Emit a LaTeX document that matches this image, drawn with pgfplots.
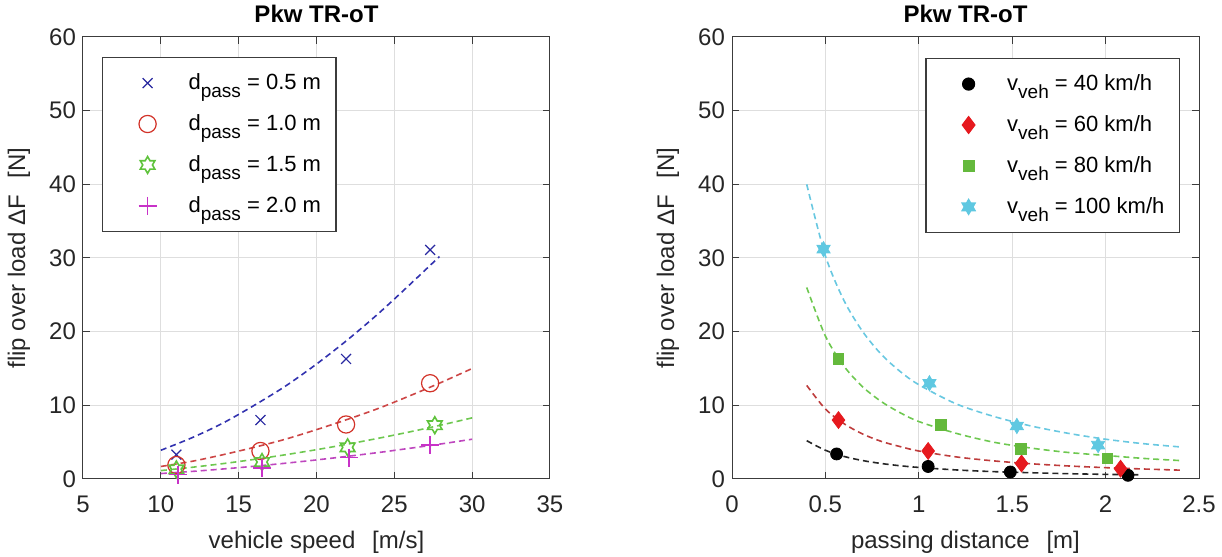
\documentclass[border=0pt]{standalone}
\usepackage{fontspec}
\setmainfont{Liberation Sans}
\usepackage{pgfplots}
\pgfplotsset{compat=1.18}

\definecolor{cBlue}{RGB}{40,40,160}
\definecolor{cRed}{RGB}{210,50,40}
\definecolor{cGreen}{RGB}{95,195,60}
\definecolor{cMag}{RGB}{200,50,200}
\definecolor{lBlue}{RGB}{50,50,175}
\definecolor{lRed}{RGB}{205,70,70}
\definecolor{lGreen}{RGB}{110,200,80}
\definecolor{lMag}{RGB}{190,70,190}
\definecolor{rRed}{RGB}{230,25,30}
\definecolor{rGreen}{RGB}{100,185,60}
\definecolor{rCyan}{RGB}{95,200,225}
\definecolor{lrRed}{RGB}{190,60,60}
\definecolor{lrCyan}{RGB}{105,200,225}
\definecolor{axcol}{RGB}{60,60,60}

\pgfdeclareplotmark{hexagram}{%
  \pgfpathmoveto{\pgfpointpolar{90}{\pgfplotmarksize}}%
  \pgfpathlineto{\pgfpointpolar{120}{0.577\pgfplotmarksize}}%
  \pgfpathlineto{\pgfpointpolar{150}{\pgfplotmarksize}}%
  \pgfpathlineto{\pgfpointpolar{180}{0.577\pgfplotmarksize}}%
  \pgfpathlineto{\pgfpointpolar{210}{\pgfplotmarksize}}%
  \pgfpathlineto{\pgfpointpolar{240}{0.577\pgfplotmarksize}}%
  \pgfpathlineto{\pgfpointpolar{270}{\pgfplotmarksize}}%
  \pgfpathlineto{\pgfpointpolar{300}{0.577\pgfplotmarksize}}%
  \pgfpathlineto{\pgfpointpolar{330}{\pgfplotmarksize}}%
  \pgfpathlineto{\pgfpointpolar{0}{0.577\pgfplotmarksize}}%
  \pgfpathlineto{\pgfpointpolar{30}{\pgfplotmarksize}}%
  \pgfpathlineto{\pgfpointpolar{60}{0.577\pgfplotmarksize}}%
  \pgfpathclose
  \pgfusepathqstroke}
\pgfdeclareplotmark{hexagram*}{%
  \pgfpathmoveto{\pgfpointpolar{90}{\pgfplotmarksize}}%
  \pgfpathlineto{\pgfpointpolar{120}{0.577\pgfplotmarksize}}%
  \pgfpathlineto{\pgfpointpolar{150}{\pgfplotmarksize}}%
  \pgfpathlineto{\pgfpointpolar{180}{0.577\pgfplotmarksize}}%
  \pgfpathlineto{\pgfpointpolar{210}{\pgfplotmarksize}}%
  \pgfpathlineto{\pgfpointpolar{240}{0.577\pgfplotmarksize}}%
  \pgfpathlineto{\pgfpointpolar{270}{\pgfplotmarksize}}%
  \pgfpathlineto{\pgfpointpolar{300}{0.577\pgfplotmarksize}}%
  \pgfpathlineto{\pgfpointpolar{330}{\pgfplotmarksize}}%
  \pgfpathlineto{\pgfpointpolar{0}{0.577\pgfplotmarksize}}%
  \pgfpathlineto{\pgfpointpolar{30}{\pgfplotmarksize}}%
  \pgfpathlineto{\pgfpointpolar{60}{0.577\pgfplotmarksize}}%
  \pgfpathclose
  \pgfusepathqfillstroke}

\newcommand{\sub}[1]{\raisebox{-4pt}{\fontsize{9.5}{10}\selectfont #1}}
\newcommand{\leg}[1]{\kern14pt#1\kern-12.5pt}

\pgfplotsset{
  mystyle/.style={
    width=233.5pt, height=221pt, scale only axis,
    clip=false,
    axis line style={axcol, line width=0.5pt},
    tick style={axcol, line width=0.5pt},
    major tick length=3.5pt,
    tick align=inside, xtick pos=both, ytick pos=both,
    grid=major,
    major grid style={black!13, line width=0.5pt},
    ymin=0, ymax=60, ytick={0,10,20,30,40,50,60},
    /pgf/number format/assume math mode=true,
    tick label style={font=\fontsize{12}{14}\selectfont, text=black!85},
    xticklabel style={yshift=-5pt},
    label style={font=\fontsize{12}{14}\selectfont, text=black!85},
    title style={font=\fontsize{12}{14}\selectfont\bfseries, anchor=base, yshift=1pt},
    xlabel style={at={(axis description cs:0.5,0)}, anchor=base, yshift=-34.5pt},
    ylabel style={at={(axis description cs:-0.137,0.5)}, anchor=center},
    legend style={font=\fontsize{11}{13}\selectfont, draw=axcol, line width=0.6pt,
      row sep=7pt, inner xsep=18pt, inner ysep=6pt, cells={anchor=west}},
    title={Pkw TR-oT},
  },
  fitline/.style={dash pattern=on 3pt off 2pt, line width=0.8pt, smooth, forget plot, no marks},
}

\begin{document}
\begin{tikzpicture}
\useasboundingbox (-41.5pt,-39pt) rectangle (569.5pt,239.5pt);

\begin{axis}[mystyle,
  xmin=5, xmax=35, xtick={5,10,15,20,25,30,35},
  xlabel={vehicle speed\hspace{0.7em}[m/s]},
  ylabel={flip over load ΔF\hspace{0.7em}[N]},
  legend style={at={(0,1)}, anchor=north west, xshift=9.5pt, yshift=-10pt},
]
\addplot[only marks, mark=x, mark size=3.5pt, color=cBlue, line width=0.6pt]
  coordinates {(11.0,3.3) (16.4,8.0) (21.9,16.3) (27.3,31.1)};
\addlegendentry{\leg{d\sub{pass} = 0.5 m}}
\addplot[only marks, mark=o, mark size=4.3pt, color=cRed, line width=0.6pt]
  coordinates {(11.0,1.9) (16.4,3.8) (21.9,7.4) (27.3,13.0)};
\addlegendentry{\leg{d\sub{pass} = 1.0 m}}
\addplot[only marks, mark=hexagram, mark size=4.2pt, color=cGreen, line width=0.8pt]
  coordinates {(11.0,1.3) (16.5,2.3) (22.0,4.3) (27.6,7.3)};
\addlegendentry{\leg{d\sub{pass} = 1.5 m}}
\addplot[only marks, mark=+, mark size=4.5pt, color=cMag, line width=0.8pt]
  coordinates {(11.1,0.6) (16.5,1.5) (22.1,2.9) (27.3,4.6)};
\addlegendentry{\leg{d\sub{pass} = 2.0 m}}

\addplot[fitline, color=lBlue] coordinates {(10,3.9) (12,5.6) (14,7.6) (16,10.0) (18,12.6) (20,15.6) (22,18.9) (24,22.5) (26,26.4) (27.9,30.2)};
\addplot[fitline, color=lRed] coordinates {(10,1.7) (12,2.4) (14,3.3) (16,4.3) (18,5.4) (20,6.7) (22,8.1) (24,9.6) (26,11.3) (28,13.1) (30,15.0)};
\addplot[fitline, color=lGreen] coordinates {(10,1.14) (12,1.59) (14,2.09) (16,2.66) (18,3.29) (20,3.98) (22,4.73) (24,5.54) (26,6.40) (28,7.32) (30,8.3)};
\addplot[fitline, color=lMag] coordinates {(10,0.74) (12,1.03) (14,1.36) (16,1.73) (18,2.14) (20,2.59) (22,3.08) (24,3.60) (26,4.17) (28,4.76) (30,5.4)};
\end{axis}

\begin{axis}[mystyle, at={(324.5pt,0pt)},
  xmin=0, xmax=2.5, xtick={0,0.5,1,1.5,2,2.5},
  xticklabels={0,0.5,1,1.5,2,2.5},
  xlabel={passing distance\hspace{0.7em}[m]},
  ylabel={flip over load ΔF\hspace{0.7em}[N]},
  legend style={at={(1,1)}, anchor=north east, xshift=-9.5pt, yshift=-10.5pt},
]
\addplot[only marks, mark=*, mark size=3pt, color=black]
  coordinates {(0.56,3.4) (1.05,1.7) (1.49,0.95) (2.12,0.5)};
\addlegendentry{\leg{v\sub{veh} = 40 km/h}}
\addplot[only marks, mark=diamond*, mark size=4.2pt, color=rRed]
  coordinates {(0.57,8.0) (1.05,3.8) (1.55,2.1) (2.08,1.4)};
\addlegendentry{\leg{v\sub{veh} = 60 km/h}}
\addplot[only marks, mark=square*, mark size=2.7pt, color=rGreen]
  coordinates {(0.57,16.3) (1.12,7.3) (1.545,4.1) (2.01,2.8)};
\addlegendentry{\leg{v\sub{veh} = 80 km/h}}
\addplot[only marks, mark=hexagram*, mark size=3.8pt, color=rCyan]
  coordinates {(0.49,31.2) (1.057,13.0) (1.525,7.2) (1.96,4.6)};
\addlegendentry{\leg{v\sub{veh} = 100 km/h}}

\addplot[fitline, color=lrCyan] coordinates {(0.4,40) (0.5,30.3) (0.6,24.2) (0.7,20.0) (0.8,16.9) (0.9,14.6) (1.0,12.8) (1.2,10.2) (1.4,8.5) (1.6,7.2) (1.8,6.2) (2.0,5.4) (2.2,4.8) (2.4,4.35)};
\addplot[fitline, color=lGreen] coordinates {(0.4,26) (0.5,19.4) (0.6,15.3) (0.7,12.5) (0.8,10.5) (0.9,9.0) (1.0,7.8) (1.2,6.2) (1.4,5.0) (1.6,4.2) (1.8,3.6) (2.0,3.2) (2.2,2.8) (2.4,2.5)};
\addplot[fitline, color=lrRed] coordinates {(0.4,12.7) (0.5,9.5) (0.6,7.5) (0.7,6.1) (0.8,5.1) (0.9,4.4) (1.0,3.8) (1.2,3.0) (1.4,2.46) (1.6,2.07) (1.8,1.77) (2.0,1.54) (2.2,1.36) (2.4,1.2)};
\addplot[fitline, color=black!85] coordinates {(0.4,5.2) (0.5,3.9) (0.6,3.06) (0.7,2.5) (0.8,2.1) (0.9,1.8) (1.0,1.57) (1.2,1.23) (1.4,1.0) (1.6,0.85) (1.8,0.72) (2.0,0.63) (2.18,0.57)};
\end{axis}
\end{tikzpicture}
\end{document}
